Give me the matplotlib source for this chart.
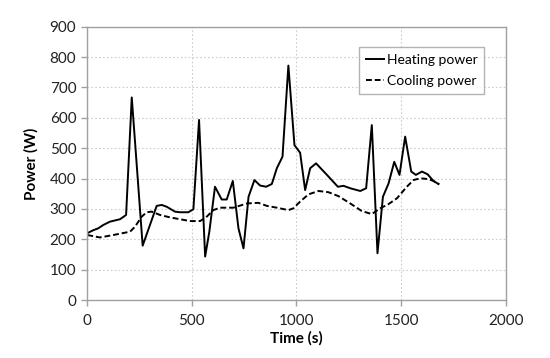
import matplotlib
matplotlib.use("Agg")
import matplotlib.pyplot as plt

plt.rcParams.update({
    'font.family': ['Lato', 'DejaVu Sans'],
    'font.size': 11,
})

# Heating power (solid line)
heat_t = [3, 32, 55, 79, 111, 159, 188, 215, 267, 334, 358, 382, 421, 445, 485, 509,
          536, 565, 585, 612, 644, 668, 697, 724, 748, 772, 800, 827, 856, 883, 907,
          934, 962, 991, 1018, 1042, 1066, 1094, 1146, 1198, 1225, 1257, 1305, 1333,
          1360, 1387, 1413, 1440, 1467, 1492, 1519, 1548, 1570, 1599, 1626, 1654, 1678]
heat_p = [220, 230, 236, 247, 258, 266, 280, 667, 179, 310, 313, 307, 291, 289, 289, 299,
          593, 143, 225, 373, 331, 331, 392, 236, 170, 340, 395, 377, 373, 382, 434,
          472, 772, 510, 485, 362, 434, 450, 412, 373, 376, 368, 359, 368,
          576, 154, 340, 384, 455, 412, 538, 423, 412, 423, 414, 392, 382]

# Cooling power (dashed line)
cool_t = [3, 63, 127, 207, 230, 262, 286, 310, 350, 398, 445, 493, 541, 569, 604, 636,
          700, 728, 764, 819, 859, 907, 962, 986, 1018, 1058, 1106, 1153, 1201, 1257,
          1312, 1360, 1400, 1440, 1480, 1527, 1559, 1591, 1630, 1654, 1681]
cool_p = [214, 206, 214, 225, 241, 274, 289, 291, 280, 272, 266, 260, 260, 272, 296, 304,
          304, 310, 318, 320, 310, 304, 296, 302, 324, 348, 359, 355, 342, 318,
          293, 283, 302, 316, 335, 373, 395, 401, 398, 392, 381]

x_ticks = [0, 500, 1000, 1500, 2000]
y_ticks = list(range(0, 1000, 100))

fig = plt.figure(figsize=(5.5, 3.58), dpi=100, facecolor="white")
ax = fig.add_axes([0.1576, 0.162, 0.7624, 0.7634])

ax.plot(heat_t, heat_p, color="black", lw=1.4, ls="-", label="Heating power")
ax.plot(cool_t, cool_p, color="black", lw=1.4, ls=(0, (3, 1.5)), label="Cooling power")

ax.set_xlim(0, 2000)
ax.set_ylim(0, 900)
ax.set_xticks(x_ticks)
ax.set_yticks(y_ticks)
ax.grid(True, color="#cccccc", ls=(0, (1.5, 2)), lw=0.8)
ax.set_axisbelow(True)

for s in ax.spines.values():
    s.set_color("#a0a0a0")
    s.set_linewidth(1.0)

ax.tick_params(axis="both", colors="#a0a0a0", labelcolor="#222222", length=4,
               width=1.0, labelsize=11)
ax.tick_params(axis="x", pad=6)

ax.set_xlabel("Time (s)", fontsize=11, fontweight="bold", labelpad=2)
ax.set_ylabel("Power (W)", fontsize=11, fontweight="bold", labelpad=8)

leg = ax.legend(loc="upper right", bbox_to_anchor=(0.965, 0.95), fontsize=10,
                frameon=True, fancybox=False, handlelength=1.3, handletextpad=0.2,
                borderpad=0.5, labelspacing=0.6)
leg.get_frame().set_edgecolor("#a0a0a0")
leg.get_frame().set_linewidth(1.0)

fig.savefig("out.png", dpi=100, facecolor="white")
